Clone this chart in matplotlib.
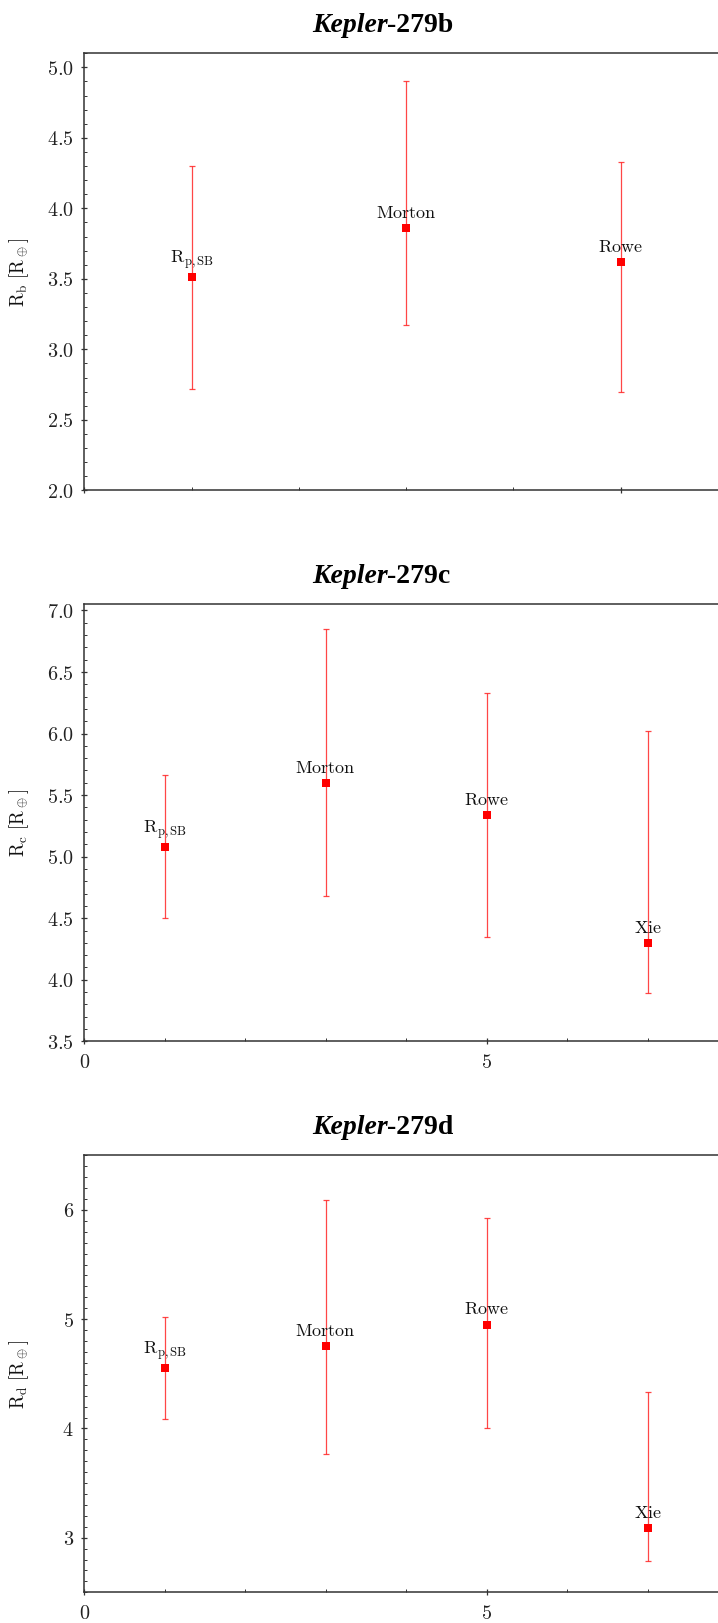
import matplotlib
matplotlib.use("Agg")
import matplotlib.pyplot as plt
from matplotlib.ticker import MultipleLocator, FuncFormatter

plt.rcParams['mathtext.fontset'] = 'cm'
plt.rcParams['font.family'] = ['DejaVu Sans']

# ---------------- data ----------------
labels_b = [r'$\mathrm{R_{p,SB}}$', r'$\mathrm{Morton}$', r'$\mathrm{Rowe}$']
x_b = [1, 3, 5]
r_b = [3.51, 3.86, 3.62]
r_b_low = [2.72, 3.17, 2.70]
r_b_high = [4.30, 4.90, 4.33]

labels_cd = [r'$\mathrm{R_{p,SB}}$', r'$\mathrm{Morton}$', r'$\mathrm{Rowe}$', r'$\mathrm{Xie}$']
x_cd = [1, 3, 5, 7]
r_c = [5.08, 5.60, 5.34, 4.30]
r_c_low = [4.50, 4.68, 4.35, 3.89]
r_c_high = [5.66, 6.85, 6.33, 6.02]

r_d = [4.55, 4.75, 4.95, 3.09]
r_d_low = [4.09, 3.77, 4.00, 2.79]
r_d_high = [5.02, 6.09, 5.93, 4.33]

titles = ['279b', '279c', '279d']
ylabels = [r'$\mathrm{R_b\ [R_\oplus]}$', r'$\mathrm{R_c\ [R_\oplus]}$', r'$\mathrm{R_d\ [R_\oplus]}$']

W, H = 718, 1623
fig = plt.figure(figsize=(W / 100, H / 100), dpi=100)

left = 84.3 / W
width = (728 - 84.3) / W
tops = [53.3, 604.3, 1155.3]
ah = 437.0

panels = [
    dict(x=x_b, y=r_b, lo=r_b_low, hi=r_b_high, labels=labels_b, xlim=(0, 6),
         ylim=(2.0, 5.1), ymaj=0.5, fmt='{:.1f}', xlabels=False),
    dict(x=x_cd, y=r_c, lo=r_c_low, hi=r_c_high, labels=labels_cd, xlim=(0, 8),
         ylim=(3.5, 7.05), ymaj=0.5, fmt='{:.1f}', xlabels=True),
    dict(x=x_cd, y=r_d, lo=r_d_low, hi=r_d_high, labels=labels_cd, xlim=(0, 8),
         ylim=(2.5, 6.5), ymaj=1.0, fmt='{:.0f}', xlabels=True),
]

spine_col = '#333333'
for i, p in enumerate(panels):
    top = tops[i]
    ax = fig.add_axes([left, 1 - (top + ah) / H, width, ah / H])
    yerr = [[v - l for v, l in zip(p['y'], p['lo'])], [h - v for v, h in zip(p['y'], p['hi'])]]
    ax.errorbar(p['x'], p['y'], yerr=yerr, fmt='none', ecolor=(1, 0.15, 0.15, 0.85),
                elinewidth=0.9, capsize=2.5, capthick=0.9)
    ax.plot(p['x'], p['y'], 's', color='#ff0000', markersize=5.2, markeredgewidth=0)
    for xv, yv, lab in zip(p['x'], p['y'], p['labels']):
        ax.annotate(lab, (xv, yv), xytext=(0, 4.5), textcoords='offset points',
                    ha='center', va='bottom', fontsize=13, color='#111111')
    ax.set_xlim(*p['xlim'])
    ax.set_ylim(*p['ylim'])
    ax.yaxis.set_major_locator(MultipleLocator(p['ymaj']))
    ax.yaxis.set_minor_locator(MultipleLocator(0.1))
    ax.xaxis.set_major_locator(MultipleLocator(5))
    ax.xaxis.set_minor_locator(MultipleLocator(1))
    fmt = p['fmt']
    ax.yaxis.set_major_formatter(FuncFormatter(lambda v, pos, f=fmt: '$' + f.format(v) + '$'))
    if p['xlabels']:
        ax.xaxis.set_major_formatter(FuncFormatter(lambda v, pos: '$%d$' % round(v)))
    else:
        ax.xaxis.set_major_formatter(FuncFormatter(lambda v, pos: ''))
    ax.tick_params(axis='both', which='major', direction='inout', length=5, width=0.9,
                   colors=spine_col, labelsize=14.5, labelcolor='#222222')
    ax.tick_params(axis='y', which='major', pad=5)
    ax.tick_params(axis='x', which='major', pad=6)
    ax.tick_params(axis='both', which='minor', direction='in', length=2.2, width=0.7,
                   colors=spine_col)
    for s in ax.spines.values():
        s.set_color(spine_col)
        s.set_linewidth(1.1)
    ax.set_ylabel(ylabels[i], fontsize=13.5, color='#111111')
    ax.yaxis.set_label_coords(-0.083, 0.5)
    # title: italic "Kepler" + upright "-279x"
    ty = 1 - (top - 21.5) / H
    sx = 387.5 / W
    fig.text(sx, ty, 'Kepler', ha='right', va='baseline', fontsize=20,
             family='Liberation Serif', style='italic', weight='bold')
    fig.text(sx, ty, '-' + titles[i], ha='left', va='baseline', fontsize=20,
             family='Liberation Serif', weight='bold')

fig.savefig('out.png', dpi=100)
